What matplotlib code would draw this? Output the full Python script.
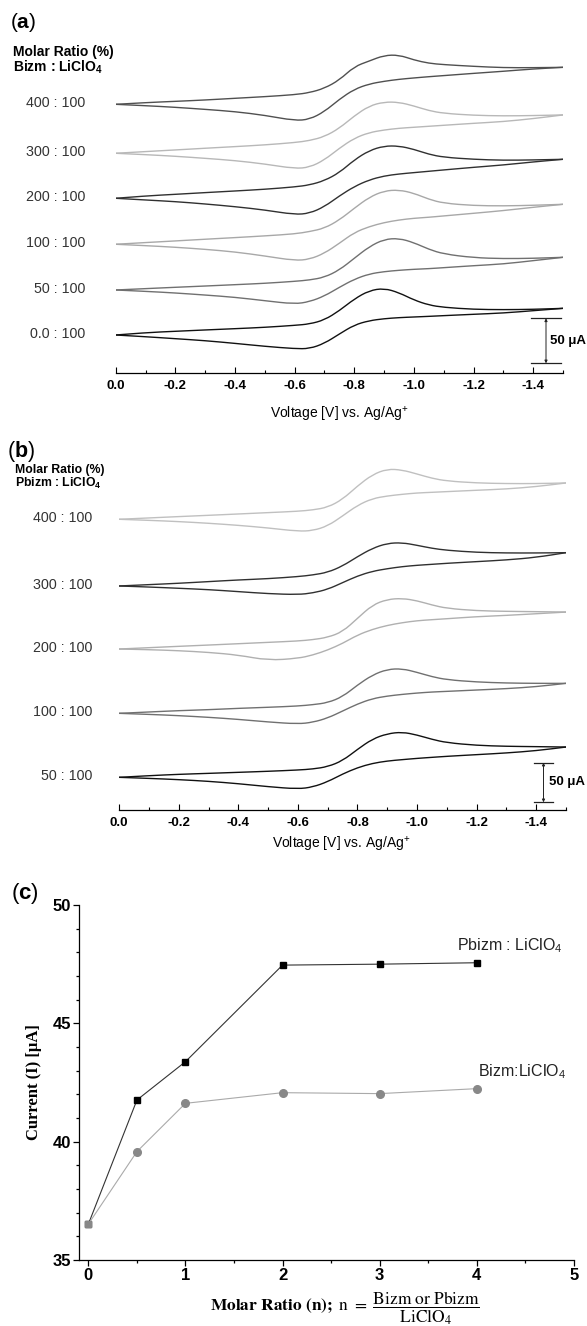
"""
Cyclic voltammograms of Bizm / Pbizm : LiClO4 blends and peak current vs molar ratio.
Saves out.png (587 x 1326 px).
"""

import matplotlib.pyplot as plt
from matplotlib.patches import PathPatch
from matplotlib.path import Path
from matplotlib.ticker import FuncFormatter, MultipleLocator

plt.rcParams["font.family"] = ["Liberation Sans", "DejaVu Sans"]
plt.rcParams["mathtext.fontset"] = "custom"
plt.rcParams["mathtext.rm"] = "Liberation Sans"
plt.rcParams["mathtext.it"] = "Liberation Sans:italic"
plt.rcParams["mathtext.bf"] = "Liberation Sans:bold"

# potential grid shared by every trace (V vs Ag/Ag+)
VOLT = [0.0, -0.1, -0.2, -0.3, -0.4, -0.5, -0.6, -0.65, -0.7, -0.75, -0.8,
        -0.85, -0.9, -0.95, -1.0, -1.05, -1.1, -1.2, -1.3, -1.4, -1.5]

# ---- (a) Bizm : LiClO4, current in uA relative to the start of each trace
A_RATIOS = ["400 : 100", "300 : 100", "200 : 100", "100 : 100", "50 : 100", "0.0 : 100"]
A_OFFSET = [298.2, 243.8, 193.8, 142.7, 91.9, 41.9]
A400_UP = [0, 1.9, 3.3, 4.8, 6.7, 8.5, 10.7, 13.0, 17.8, 27.0, 41.9, 48.1, 54.4, 54.8, 49.3, 45.6, 44.1, 42.2, 40.7, 40.7, 41.1]
A400_DN = [0, -1.5, -3.3, -5.6, -8.1, -12.2, -18.1, -16.7, -8.1, 5.6, 16.7, 22.6, 25.6, 27.8, 29.3, 30.7, 31.9, 34.4, 36.7, 39.3, 41.1]
A300_UP = [0, 1.9, 3.7, 5.6, 7.4, 9.3, 11.9, 14.1, 18.5, 27.8, 41.5, 52.6, 57.0, 56.7, 52.6, 47.4, 44.4, 42.2, 41.5, 41.9, 42.6]
A300_DN = [0, -1.5, -3.3, -5.6, -8.1, -11.9, -17.0, -15.6, -7.4, 5.6, 16.7, 23.0, 25.9, 27.8, 28.9, 30.0, 31.1, 33.3, 35.2, 38.5, 42.6]
A200_UP = [0, 2.6, 4.4, 6.3, 8.1, 10.0, 12.6, 14.8, 19.6, 28.5, 42.6, 53.0, 58.1, 58.1, 54.4, 48.9, 45.6, 43.3, 42.2, 42.6, 43.3]
A200_DN = [0, -1.9, -3.7, -6.3, -9.3, -13.0, -18.1, -16.7, -9.3, 2.6, 13.0, 20.4, 24.8, 27.0, 28.5, 30.0, 31.5, 34.4, 37.0, 40.4, 43.3]
A100_UP = [0, 1.9, 3.7, 5.6, 7.4, 9.3, 11.5, 14.1, 17.8, 27.0, 40.0, 52.2, 59.3, 60.4, 56.7, 50.0, 45.6, 43.0, 42.6, 43.3, 44.4]
A100_DN = [0, -1.5, -3.3, -5.6, -8.5, -13.0, -18.1, -16.7, -10.0, 1.1, 13.0, 19.6, 24.1, 27.0, 28.9, 30.0, 31.5, 34.4, 37.4, 41.1, 44.4]
A50_UP = [0, 1.5, 3.0, 4.4, 5.9, 7.4, 9.6, 11.1, 14.1, 22.2, 35.2, 48.1, 56.3, 57.4, 52.6, 45.2, 40.0, 35.9, 34.8, 35.2, 36.3]
A50_DN = [0, -1.5, -3.3, -5.6, -8.1, -11.9, -15.6, -13.0, -6.7, 3.0, 11.9, 17.8, 20.4, 21.9, 23.0, 23.7, 24.8, 27.0, 28.9, 32.6, 36.3]
A0_UP = [0, 2.6, 4.1, 5.6, 7.0, 8.5, 10.7, 12.2, 16.7, 27.0, 40.0, 49.3, 51.9, 47.0, 38.9, 33.3, 30.7, 28.5, 28.1, 28.5, 29.6]
A0_DN = [0, -1.9, -4.1, -6.3, -9.3, -12.6, -15.2, -15.2, -9.3, 1.1, 11.1, 15.9, 18.1, 19.3, 20.0, 20.7, 21.5, 23.0, 24.4, 27.0, 29.6]

# ---- (b) Pbizm : LiClO4
B_RATIOS = ["400 : 100", "300 : 100", "200 : 100", "100 : 100", "50 : 100"]
B_OFFSET = [366.6, 282.5, 203.0, 121.9, 41.2]
B400_UP = [0, 1.7, 3.4, 5.0, 6.7, 8.4, 10.1, 11.8, 15.1, 25.2, 42.0, 56.3, 63.4, 62.2, 57.1, 51.7, 48.3, 45.8, 45.0, 45.0, 45.8]
B400_DN = [0, -1.3, -2.9, -5.0, -7.6, -10.9, -15.1, -14.3, -8.4, 4.2, 17.6, 26.1, 29.4, 31.5, 33.2, 34.0, 34.9, 36.6, 38.2, 41.2, 45.8]
B300_UP = [0, 1.7, 3.4, 5.5, 7.6, 9.2, 11.8, 13.9, 17.2, 25.2, 37.0, 47.5, 53.8, 54.6, 51.3, 47.5, 45.0, 42.4, 41.6, 41.6, 42.0]
B300_DN = [0, -1.3, -2.9, -4.6, -7.1, -9.7, -10.9, -8.8, -4.2, 4.2, 12.6, 18.5, 21.8, 24.4, 26.1, 27.3, 28.6, 30.7, 32.8, 36.1, 42.0]
B200_UP = [0, 1.7, 3.4, 5.0, 6.7, 8.4, 10.1, 11.8, 14.7, 21.8, 38.7, 55.5, 62.6, 63.9, 60.9, 55.5, 51.3, 48.3, 47.5, 47.1, 46.6]
B200_DN = [0, -0.8, -2.1, -4.2, -7.6, -14.3, -11.8, -7.6, -1.3, 7.1, 17.6, 24.8, 29.8, 33.2, 35.7, 37.0, 38.2, 40.8, 42.4, 44.5, 46.6]
B100_UP = [0, 1.7, 3.4, 4.6, 6.3, 7.6, 9.2, 10.9, 13.4, 21.0, 35.7, 48.3, 55.5, 56.3, 51.7, 46.2, 42.4, 39.5, 38.2, 37.8, 37.8]
B100_DN = [0, -1.3, -2.9, -5.0, -7.6, -10.9, -13.4, -11.3, -5.9, 2.9, 11.8, 18.5, 21.8, 23.9, 25.6, 26.9, 27.7, 29.4, 31.1, 33.6, 37.8]
B50_UP = [0, 2.1, 3.8, 5.0, 6.3, 7.6, 9.2, 10.5, 13.4, 21.0, 35.3, 48.3, 55.0, 57.1, 53.4, 47.9, 43.7, 40.3, 39.1, 38.7, 38.2]
B50_DN = [0, -1.3, -2.9, -5.0, -8.0, -11.8, -14.7, -12.2, -5.5, 4.2, 12.2, 17.6, 20.6, 22.3, 23.9, 25.2, 26.5, 28.6, 30.7, 33.6, 38.2]

# ---- (c) peak current vs molar ratio n
N_RATIO = [0, 0.5, 1, 2, 3, 4]
PBIZM_I = [36.52, 41.76, 43.38, 47.46, 47.50, 47.56]
BIZM_I = [36.52, 39.58, 41.62, 42.07, 42.03, 42.24]

SCALE_UA = 50

W, H = 587, 1326


def px_axes(fig, x0, x1, ytop, ybot):
    return fig.add_axes([x0 / W, 1 - ybot / H, (x1 - x0) / W, (ybot - ytop) / H])


def volt_fmt(v, _):
    return "0.0" if abs(v) < 1e-9 else f"{v:.1f}"


def spline_connect(ax, xs, ys, color):
    # quadratic bezier path through the read points (Origin-style smooth line)
    pts = list(zip(xs, ys))
    verts, codes = [pts[0]], [Path.MOVETO]
    for i in range(1, len(pts) - 1):
        nxt = pts[i + 1]
        verts += [pts[i], ((pts[i][0] + nxt[0]) / 2, (pts[i][1] + nxt[1]) / 2)]
        codes += [Path.CURVE3, Path.CURVE3]
    verts.append(pts[-1])
    codes.append(Path.LINETO)
    ax.add_patch(PathPatch(Path(verts, codes), fill=False, edgecolor=color, lw=1.0,
                           capstyle="round", joinstyle="round"))


def draw_cv(ax, px_per_ua, top_px, offsets, ups, dns, colors, labels, label_dx):
    ax.set_xlim(0, -1.5)
    ax.set_ylim(0, top_px / px_per_ua)
    for off, up, dn, c, lab in zip(offsets, ups, dns, colors, labels):
        spline_connect(ax, VOLT, [off + v for v in up], c)
        spline_connect(ax, VOLT, [off + v for v in dn], c)
        ax.annotate(lab, xy=(0, off), xytext=(label_dx, 1), textcoords="offset pixels",
                    ha="right", va="center", fontsize=10.3, color="#333333")
    for s in ("left", "right", "top"):
        ax.spines[s].set_visible(False)
    ax.spines["bottom"].set_linewidth(0.9)
    ax.set_yticks([])
    ax.xaxis.set_major_locator(MultipleLocator(0.2))
    ax.xaxis.set_minor_locator(MultipleLocator(0.1))
    ax.xaxis.set_major_formatter(FuncFormatter(volt_fmt))
    ax.tick_params(axis="x", which="major", direction="in", length=4, width=0.8, pad=5,
                   labelsize=9.5)
    ax.tick_params(axis="x", which="minor", direction="in", length=2, width=0.8)
    for t in ax.get_xticklabels():
        t.set_fontweight("bold")


def scale_bar(ax, v, lo, half_w, text_dv):
    hi = lo + SCALE_UA
    for y in (lo, hi):
        ax.plot([v + half_w, v - half_w], [y, y], color="#222222", lw=0.9, clip_on=False)
    ax.annotate("", xy=(v, hi), xytext=(v, lo),
                arrowprops=dict(arrowstyle="<|-|>", lw=0.7, color="#222222",
                                shrinkA=0, shrinkB=0, mutation_scale=4),
                annotation_clip=False)
    ax.text(v + text_dv, lo + SCALE_UA / 2, f"{SCALE_UA} \u03bcA", fontsize=9.5,
            fontweight="bold", ha="left", va="center", clip_on=False)


def main():
    fig = plt.figure(figsize=(W / 100, H / 100), dpi=100)

    # ---------------- (a)
    ax_a = px_axes(fig, 115.7, 563, 40, 372.7)
    draw_cv(ax_a, 0.9, 372.7 - 40, A_OFFSET,
            [A400_UP, A300_UP, A200_UP, A100_UP, A50_UP, A0_UP],
            [A400_DN, A300_DN, A200_DN, A100_DN, A50_DN, A0_DN],
            ["#505050", "#b8b8b8", "#303030", "#a8a8a8", "#707070", "#111111"],
            A_RATIOS, -30)
    scale_bar(ax_a, -1.443, 10.4, 0.05, -0.012)
    fig.text(339 / W, 1 - 415 / H, "Voltage [V] vs. Ag/Ag$^{+}$", ha="center", va="center",
             fontsize=10)
    fig.text(10 / W, 1 - 22 / H, r"($\mathbf{a}$)", fontsize=15, va="center")
    fig.text(13 / W, 1 - 52 / H, "Molar Ratio (%)", fontsize=10, fontweight="bold",
             va="center")
    fig.text(13 / W, 1 - 67 / H, r"Bizm : LiClO$_\mathbf{4}$", fontsize=10,
             fontweight="bold", va="center")

    # ---------------- (b)
    ax_b = px_axes(fig, 119.2, 566, 460, 810)
    draw_cv(ax_b, 0.793, 810 - 460, B_OFFSET,
            [B400_UP, B300_UP, B200_UP, B100_UP, B50_UP],
            [B400_DN, B300_DN, B200_DN, B100_DN, B50_DN],
            ["#c0c0c0", "#303030", "#b0b0b0", "#707070", "#111111"],
            B_RATIOS, -27)
    scale_bar(ax_b, -1.4245, 9.7, 0.032, -0.018)
    fig.text(341 / W, 1 - 845 / H, "Voltage [V] vs. Ag/Ag$^{+}$", ha="center", va="center",
             fontsize=10)
    fig.text(7 / W, 1 - 452 / H, r"($\mathbf{b}$)", fontsize=15.5, va="center")
    fig.text(15 / W, 1 - 470 / H, "Molar Ratio (%)", fontsize=8.8, fontweight="bold",
             va="center")
    fig.text(15 / W, 1 - 483.5 / H, r"Pbizm : LiClO$_\mathbf{4}$", fontsize=8.8,
             fontweight="bold", va="center")

    # ---------------- (c)
    ax_c = px_axes(fig, 78.7, 573.7, 905, 1260)
    ax_c.plot(N_RATIO, PBIZM_I, color="#333333", lw=0.8, marker="s", ms=5,
              mfc="black", mec="black")
    ax_c.plot(N_RATIO, BIZM_I, color="#aaaaaa", lw=0.8, marker="o", ms=5.5,
              mfc="#888888", mec="#888888", markevery=slice(1, None))
    ax_c.plot(N_RATIO[0], BIZM_I[0], "s", ms=5, color="#888888", zorder=5)
    ax_c.set_xlim(-0.1, 5)
    ax_c.set_ylim(35, 50)
    ax_c.xaxis.set_major_locator(MultipleLocator(1))
    ax_c.xaxis.set_minor_locator(MultipleLocator(0.5))
    ax_c.yaxis.set_major_locator(MultipleLocator(5))
    ax_c.yaxis.set_minor_locator(MultipleLocator(1))
    ax_c.tick_params(which="major", direction="out", length=4, width=0.9, pad=1.5,
                     labelsize=12)
    ax_c.tick_params(which="minor", direction="out", length=2.5, width=0.9)
    for t in ax_c.get_xticklabels() + ax_c.get_yticklabels():
        t.set_fontweight("bold")
    for s in ("right", "top"):
        ax_c.spines[s].set_visible(False)
    for s in ("left", "bottom"):
        ax_c.spines[s].set_linewidth(0.9)
    ax_c.text(3.80, 48.3, "Pbizm : LiClO$_4$", fontsize=11.5, va="center", color="#222222")
    ax_c.text(4.01, 42.95, "Bizm:LiClO$_4$", fontsize=11.5, va="center", color="#222222")
    ax_c.set_ylabel("Current (I) [\u03bcA]", fontfamily="Liberation Serif",
                    fontweight="bold", fontsize=12)
    ax_c.yaxis.set_label_coords(-0.075, 0.5)
    fig.text(345 / W, 1 - 1308 / H,
             r"$\mathbf{Molar\ Ratio\ (n);}\ \mathrm{n}\ =\ "
             r"\dfrac{\mathrm{Bizm\ or\ Pbizm}}{\mathrm{LiClO_4}}$",
             math_fontfamily="stix", fontsize=12.5, ha="center", va="center")
    fig.text(11 / W, 1 - 893 / H, r"($\mathbf{c}$)", fontsize=16, va="center")

    fig.savefig("out.png", dpi=100)
    plt.close(fig)


if __name__ == "__main__":
    main()
